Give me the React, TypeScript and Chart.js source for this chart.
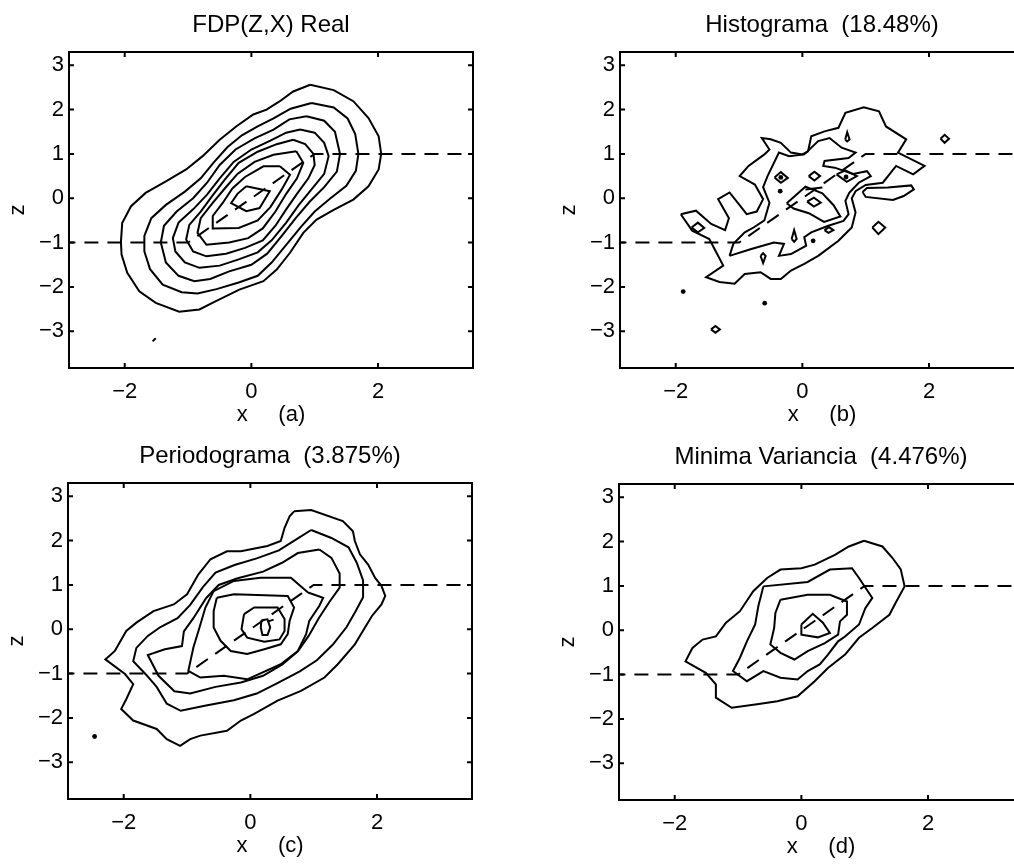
import React, { useEffect, useRef } from 'react';
import { Chart, registerables } from 'chart.js';

Chart.register(...registerables);

type Pt = [number, number];

const FONT = '"Liberation Sans", Arial, Helvetica, sans-serif';

// Axis limits and tick positions shared by all four panels
const xRange: Pt = [-2.88, 3.5];
const zRange: Pt = [-3.83, 3.3];
const xTicks = [-2, 0, 2];
const zTicks = [-3, -2, -1, 0, 1, 2, 3];

// Saturating reference curve z = clip(x, -1, 1)
const refX = [-3, -1, 1, 4];
const refZ = [-1, -1, 1, 1];

// (a) true density, contour levels from outside to inside
const realContours: Pt[][] = [
  [[0.93, 2.56], [1.3, 2.44], [1.61, 2.19], [1.85, 1.81], [2.01, 1.4], [2.05, 1.0], [2.01, 0.65], [1.85, 0.27], [1.61, -0.03], [1.3, -0.26], [1.03, -0.48], [0.82, -0.78], [0.61, -1.23], [0.4, -1.61], [0.19, -1.87], [-0.19, -2.06], [-0.56, -2.32], [-0.82, -2.51], [-1.14, -2.56], [-1.51, -2.36], [-1.77, -2.1], [-1.96, -1.68], [-2.05, -1.27], [-2.06, -0.99], [-2.04, -0.56], [-1.9, -0.18], [-1.67, 0.12], [-1.35, 0.38], [-1.03, 0.65], [-0.77, 0.95], [-0.5, 1.32], [-0.24, 1.62], [0.03, 1.89], [0.24, 2.0], [0.45, 2.19], [0.66, 2.41], [0.93, 2.56]],
  [[0.95, 2.15], [1.3, 2.05], [1.52, 1.8], [1.64, 1.45], [1.69, 1.0], [1.65, 0.62], [1.5, 0.28], [1.25, 0.0], [1.0, -0.3], [0.78, -0.65], [0.55, -1.05], [0.32, -1.45], [0.1, -1.75], [-0.2, -1.9], [-0.55, -2.05], [-0.85, -2.15], [-1.1, -2.12], [-1.4, -1.95], [-1.6, -1.6], [-1.69, -1.2], [-1.69, -0.85], [-1.58, -0.45], [-1.35, -0.15], [-1.05, 0.15], [-0.8, 0.45], [-0.6, 0.8], [-0.38, 1.15], [-0.15, 1.42], [0.1, 1.62], [0.35, 1.8], [0.62, 2.02], [0.95, 2.15]],
  [[0.87, 1.85], [1.15, 1.75], [1.32, 1.5], [1.4, 1.0], [1.35, 0.6], [1.15, 0.25], [0.92, -0.08], [0.7, -0.45], [0.48, -0.85], [0.25, -1.25], [0.0, -1.5], [-0.35, -1.65], [-0.65, -1.82], [-0.9, -1.87], [-1.15, -1.75], [-1.35, -1.45], [-1.43, -1.0], [-1.38, -0.62], [-1.18, -0.3], [-0.92, 0.0], [-0.7, 0.35], [-0.5, 0.75], [-0.25, 1.1], [0.05, 1.35], [0.35, 1.55], [0.6, 1.78], [0.87, 1.85]],
  [[0.77, 1.55], [1.0, 1.48], [1.15, 1.25], [1.22, 0.95], [1.15, 0.55], [0.95, 0.2], [0.75, -0.15], [0.55, -0.55], [0.32, -0.95], [0.1, -1.22], [-0.2, -1.38], [-0.5, -1.52], [-0.82, -1.57], [-1.05, -1.45], [-1.2, -1.2], [-1.24, -0.9], [-1.15, -0.55], [-0.92, -0.25], [-0.7, 0.08], [-0.5, 0.45], [-0.28, 0.82], [0.0, 1.1], [0.3, 1.3], [0.55, 1.48], [0.77, 1.55]],
  [[0.66, 1.32], [0.85, 1.22], [0.98, 1.0], [1.0, 0.75], [0.9, 0.45], [0.72, 0.1], [0.55, -0.25], [0.38, -0.62], [0.18, -0.95], [-0.1, -1.12], [-0.4, -1.25], [-0.71, -1.31], [-0.92, -1.2], [-1.03, -0.93], [-0.98, -0.6], [-0.8, -0.3], [-0.62, 0.05], [-0.42, 0.42], [-0.2, 0.8], [0.1, 1.05], [0.4, 1.22], [0.66, 1.32]],
  [[0.71, 1.06], [0.82, 0.8], [0.72, 0.45], [0.55, 0.1], [0.38, -0.3], [0.18, -0.68], [-0.05, -0.9], [-0.35, -1.0], [-0.71, -1.05], [-0.85, -0.78], [-0.8, -0.45], [-0.62, -0.12], [-0.42, 0.22], [-0.22, 0.55], [0.05, 0.82], [0.35, 0.98], [0.71, 1.06]],
  [[0.45, 0.72], [0.61, 0.53], [0.48, 0.2], [0.3, -0.2], [0.1, -0.5], [-0.2, -0.67], [-0.61, -0.68], [-0.61, -0.4], [-0.45, -0.1], [-0.3, 0.22], [-0.1, 0.48], [0.19, 0.72], [0.45, 0.72]],
  [[-0.08, 0.27], [0.29, 0.16], [0.13, -0.22], [-0.08, -0.29], [-0.32, -0.11], [-0.22, 0.1], [-0.08, 0.27]],
  [[-1.56, -3.23], [-1.51, -3.16]],
];
const realDots: Pt[] = [];

// (b) histogram estimate
const histContours: Pt[][] = [
  [[-1.92, -0.36], [-1.68, -0.28], [-1.44, -0.58], [-1.22, -0.72], [-1.16, -0.45], [-1.33, -0.02], [-1.15, 0.13], [-0.96, -0.21], [-0.88, -0.36], [-0.72, -0.3], [-0.62, -0.02], [-0.75, 0.31], [-0.99, 0.5], [-0.85, 0.73], [-0.6, 0.99], [-0.52, 1.1], [-0.64, 1.36], [-0.5, 1.33], [-0.34, 1.25], [-0.18, 1.03], [0.0, 0.99], [0.09, 1.06], [0.14, 1.4], [0.35, 1.51], [0.57, 1.59], [0.68, 1.93], [0.97, 2.05], [1.21, 1.96], [1.32, 1.62], [1.64, 1.33], [1.51, 1.03], [1.93, 0.73], [1.75, 0.54], [1.48, 0.73], [1.27, 0.35], [1.0, 0.3], [0.84, 0.16], [0.78, 0.0], [0.84, -0.32], [0.78, -0.66], [0.57, -0.96], [0.25, -1.3], [0.03, -1.48], [-0.18, -1.63], [-0.34, -1.82], [-0.5, -1.82], [-0.66, -1.67], [-0.91, -1.71], [-1.07, -1.93], [-1.31, -1.89], [-1.52, -1.78], [-1.25, -1.52], [-1.36, -1.22], [-1.47, -0.92], [-1.74, -0.73], [-1.92, -0.36]],
  [[-1.15, -1.3], [-1.09, -1.03], [-0.91, -0.77], [-0.77, -0.66], [-0.6, -0.5], [-0.52, -0.1], [-0.62, 0.25], [-0.55, 0.5], [-0.37, 1.03], [-0.21, 0.95], [0.03, 0.99], [0.25, 1.29], [0.43, 1.36], [0.62, 1.14], [0.84, 1.03], [0.73, 0.91], [0.35, 0.84], [0.33, 0.73], [0.51, 0.69], [0.8, 0.55], [1.02, 0.61], [1.08, 0.5], [0.89, 0.35], [0.74, 0.12], [0.68, -0.06], [0.73, -0.36], [0.65, -0.51], [0.41, -0.62], [0.14, -0.77], [0.03, -0.88], [0.06, -1.07], [-0.18, -1.26], [-0.37, -1.3], [-0.29, -1.03], [-0.45, -1.0], [-0.82, -1.15], [-1.15, -1.3]],
  [[-0.247, -0.112], [0.048, 0.262], [0.316, 0.112], [0.493, -0.157], [0.6, -0.41], [0.343, -0.532], [0.102, -0.337], [-0.139, -0.232], [-0.247, -0.112]],
  [[0.075, -0.075], [0.182, 0.015], [0.29, -0.097], [0.182, -0.187], [0.075, -0.075]],
  [[0.048, 0.2], [0.316, 0.24]],
  [[-1.75, -0.66], [-1.65, -0.55], [-1.55, -0.67], [-1.65, -0.77], [-1.75, -0.66]],
  [[-0.44, 0.47], [-0.34, 0.59], [-0.23, 0.46], [-0.34, 0.35], [-0.44, 0.47]],
  [[0.1, 0.5], [0.19, 0.6], [0.28, 0.5], [0.19, 0.4], [0.1, 0.5]],
  [[0.54, 0.54], [0.68, 0.63], [0.86, 0.5], [0.7, 0.37], [0.54, 0.54]],
  [[1.105, -0.659], [1.201, -0.532], [1.308, -0.659], [1.201, -0.809], [1.105, -0.659]],
  [[2.182, 1.341], [2.247, 1.431], [2.316, 1.341], [2.247, 1.251], [2.182, 1.341]],
  [[-1.442, -2.959], [-1.373, -2.884], [-1.303, -2.959], [-1.373, -3.034], [-1.442, -2.959]],
  [[0.35, -0.72], [0.42, -0.65], [0.49, -0.72], [0.41, -0.78], [0.35, -0.72]],
  [[-0.17, -0.92], [-0.13, -0.72], [-0.09, -0.92], [-0.13, -0.98], [-0.17, -0.92]],
  [[-0.66, -1.3], [-0.62, -1.46], [-0.58, -1.3], [-0.62, -1.24], [-0.66, -1.3]],
  [[0.676, 1.326], [0.708, 1.491], [0.745, 1.326], [0.708, 1.281], [0.676, 1.326]],
  [[0.95, 0.14], [1.02, 0.23], [1.35, 0.24], [1.72, 0.29], [1.76, 0.2], [1.6, 0.05], [1.43, -0.04], [1.0, 0.03], [0.95, 0.14]],
];
const histDots: Pt[] = [[-1.882, -2.105], [-0.595, -2.367], [0.17, -0.96], [-0.35, 0.16], [0.69, 0.48], [-0.34, 0.47]];

// (c) periodogram estimate
const periodContours: Pt[][] = [
  [[0.69, 2.66], [0.96, 2.69], [1.46, 2.44], [1.62, 2.21], [1.65, 1.99], [1.73, 1.69], [1.86, 1.46], [1.97, 1.16], [2.07, 0.98], [2.13, 0.75], [2.07, 0.56], [1.92, 0.3], [1.81, 0.04], [1.65, -0.34], [1.38, -0.79], [1.17, -1.09], [0.8, -1.39], [0.43, -1.61], [0.06, -1.91], [-0.15, -2.06], [-0.37, -2.29], [-0.79, -2.4], [-0.95, -2.48], [-1.11, -2.63], [-1.32, -2.48], [-1.48, -2.25], [-1.85, -2.06], [-2.04, -1.8], [-1.96, -1.58], [-1.85, -1.24], [-1.98, -1.01], [-2.29, -0.68], [-2.14, -0.49], [-1.96, -0.04], [-1.8, 0.15], [-1.53, 0.41], [-1.21, 0.56], [-1.0, 0.79], [-0.82, 1.24], [-0.63, 1.58], [-0.37, 1.76], [-0.15, 1.76], [0.27, 1.88], [0.48, 1.99], [0.54, 2.29], [0.62, 2.55], [0.69, 2.66]],
  [[0.96, 2.24], [1.28, 2.06], [1.55, 1.85], [1.68, 1.5], [1.78, 1.1], [1.78, 0.72], [1.66, 0.4], [1.52, 0.05], [1.3, -0.35], [1.05, -0.7], [0.78, -0.95], [0.42, -1.22], [0.1, -1.45], [-0.26, -1.6], [-0.7, -1.72], [-1.1, -1.84], [-1.32, -1.68], [-1.48, -1.3], [-1.65, -1.02], [-1.85, -0.72], [-1.8, -0.42], [-1.62, -0.15], [-1.42, 0.05], [-1.15, 0.25], [-0.95, 0.55], [-0.75, 0.95], [-0.55, 1.28], [-0.25, 1.45], [0.1, 1.6], [0.45, 1.78], [0.75, 2.05], [0.96, 2.24]],
  [[1.09, 1.8], [1.28, 1.61], [1.41, 1.26], [1.41, 0.94], [1.25, 0.62], [1.08, 0.25], [0.92, -0.15], [0.75, -0.5], [0.5, -0.8], [0.2, -1.05], [-0.15, -1.2], [-0.55, -1.3], [-0.95, -1.45], [-1.2, -1.4], [-1.45, -1.05], [-1.62, -0.58], [-1.35, -0.45], [-1.08, -0.38], [-1.05, -0.05], [-0.9, 0.25], [-0.7, 0.7], [-0.5, 1.0], [-0.2, 1.15], [0.2, 1.3], [0.5, 1.5], [0.75, 1.72], [1.09, 1.8]],
  [[0.91, 0.83], [1.15, 0.71], [1.09, 0.53], [0.93, 0.19], [0.88, -0.11], [0.75, -0.49], [0.48, -0.79], [-0.05, -1.13], [-0.42, -1.05], [-0.79, -1.09], [-0.98, -0.94], [-0.9, -0.41], [-0.82, -0.04], [-0.71, 0.49], [-0.58, 0.86], [-0.26, 1.09], [0.16, 1.16], [0.64, 1.16], [0.91, 0.83]],
  [[-0.53, 0.71], [-0.26, 0.79], [0.59, 0.75], [0.69, 0.49], [0.62, 0.19], [0.59, -0.11], [0.48, -0.34], [0.22, -0.45], [-0.05, -0.56], [-0.31, -0.49], [-0.47, -0.26], [-0.58, 0.04], [-0.58, 0.41], [-0.53, 0.71]],
  [[-0.1, 0.34], [0.06, 0.49], [0.43, 0.49], [0.54, 0.23], [0.54, -0.04], [0.46, -0.23], [0.22, -0.28], [-0.05, -0.19], [-0.14, 0.0], [-0.1, 0.34]],
  [[0.175, 0.203], [0.271, 0.225], [0.313, 0.038], [0.271, -0.128], [0.191, -0.128], [0.164, 0.038], [0.175, 0.203]],
  [[0.271, 0.173], [0.366, 0.218]],
];
const periodDots: Pt[] = [[-2.46, -2.42]];

// (d) minimum-variance estimate
const minVarContours: Pt[][] = [
  [[0.99, 2.02], [1.28, 1.89], [1.44, 1.63], [1.57, 1.37], [1.63, 0.99], [1.5, 0.65], [1.39, 0.35], [1.12, 0.05], [0.91, -0.17], [0.69, -0.55], [0.42, -0.85], [0.21, -1.15], [-0.06, -1.49], [-0.38, -1.6], [-0.7, -1.67], [-1.1, -1.75], [-1.35, -1.52], [-1.35, -1.22], [-1.51, -0.96], [-1.83, -0.7], [-1.72, -0.4], [-1.56, -0.21], [-1.35, -0.14], [-1.19, 0.17], [-0.97, 0.43], [-0.76, 0.88], [-0.54, 1.18], [-0.33, 1.37], [0.0, 1.4], [0.21, 1.48], [0.53, 1.7], [0.75, 1.89], [0.99, 2.02]],
  [[-0.6, 0.99], [0.1, 1.09], [0.45, 1.37], [0.8, 1.4], [0.91, 1.18], [1.12, 0.73], [1.01, 0.5], [0.91, 0.13], [0.69, -0.14], [0.58, -0.25], [0.42, -0.55], [0.29, -0.77], [0.1, -0.92], [-0.06, -1.11], [-0.33, -1.07], [-0.6, -0.92], [-0.86, -1.15], [-1.08, -0.92], [-0.97, -0.62], [-0.86, -0.25], [-0.73, 0.13], [-0.68, 0.54], [-0.6, 0.99]],
  [[-0.33, 0.69], [0.1, 0.8], [0.45, 0.8], [0.72, 0.65], [0.72, 0.35], [0.61, 0.2], [0.58, -0.1], [0.37, -0.29], [0.1, -0.47], [-0.11, -0.66], [-0.33, -0.51], [-0.49, -0.32], [-0.43, 0.05], [-0.41, 0.39], [-0.33, 0.69]],
  [[0.0, 0.13], [0.18, 0.37], [0.34, 0.17], [0.45, -0.06], [0.26, -0.16], [0.0, -0.1], [0.0, 0.13]],
];
const minVarDots: Pt[] = [];

const panelTitles = ['FDP(Z,X) Real', 'Histograma  (18.48%)', 'Periodograma  (3.875%)', 'Minima Variancia  (4.476%)'];
const panelTags = ['(a)', '(b)', '(c)', '(d)'];

const fmtTick = (v: number | string) => {
  const n = Number(v);
  return n < 0 ? '\u2212' + Math.abs(n) : String(n);
};

// Closed frame with inward tick marks on all four sides
const framePlugin = {
  id: 'frame',
  afterDatasetsDraw(chart: any) {
    const { ctx, chartArea: a, scales } = chart;
    const t = 5;
    ctx.save();
    ctx.strokeStyle = '#000';
    ctx.lineWidth = 2;
    ctx.strokeRect(a.left, a.top, a.right - a.left, a.bottom - a.top);
    ctx.beginPath();
    xTicks.forEach((v) => {
      const px = scales.x.getPixelForValue(v);
      ctx.moveTo(px, a.bottom);
      ctx.lineTo(px, a.bottom - t);
      ctx.moveTo(px, a.top);
      ctx.lineTo(px, a.top + t);
    });
    zTicks.forEach((v) => {
      const py = scales.y.getPixelForValue(v);
      ctx.moveTo(a.left, py);
      ctx.lineTo(a.left + t, py);
      ctx.moveTo(a.right, py);
      ctx.lineTo(a.right - t, py);
    });
    ctx.stroke();
    ctx.restore();
  },
};

type PanelProps = {
  title: string;
  tag: string;
  contours: Pt[][];
  dots: Pt[];
  left: number;
  top: number;
};

const W = 507;
const H = 432;

function Panel({ title, tag, contours, dots, left, top }: PanelProps) {
  const ref = useRef<HTMLCanvasElement>(null);

  useEffect(() => {
    if (!ref.current) return;
    const toXY = (pts: Pt[]) => pts.map(([x, z]) => ({ x, y: z }));
    const datasets: any[] = [
      {
        data: refX.map((x, i) => ({ x, y: refZ[i] })),
        showLine: true,
        borderColor: '#000',
        borderWidth: 2,
        borderDash: [14, 9],
        pointRadius: 0,
        tension: 0,
      },
    ];
    contours.forEach((c) =>
      datasets.push({
        data: toXY(c),
        showLine: true,
        borderColor: '#000',
        borderWidth: 2,
        pointRadius: 0,
        tension: 0,
        fill: false,
      })
    );
    if (dots.length) {
      datasets.push({
        data: toXY(dots),
        showLine: false,
        pointRadius: 2.4,
        backgroundColor: '#000',
        borderWidth: 0,
      });
    }
    const tickFont = { family: FONT, size: 22 };
    const labelFont = { family: FONT, size: 22 };
    const chart = new Chart(ref.current, {
      type: 'scatter',
      data: { datasets },
      options: {
        animation: false,
        responsive: false,
        events: [],
        layout: { padding: { left: 0, top: 0, bottom: 0, right: 34 } },
        plugins: {
          legend: { display: false },
          tooltip: { enabled: false },
          title: {
            display: true,
            text: title,
            color: '#000',
            font: { family: FONT, size: 24, weight: 'normal' },
            padding: { top: 10.6, bottom: 12.6 },
            fullSize: false,
          },
        },
        scales: {
          x: {
            type: 'linear',
            min: xRange[0],
            max: xRange[1],
            grid: { display: false, drawTicks: false },
            border: { display: false },
            afterBuildTicks: (s: any) => {
              s.ticks = xTicks.map((value) => ({ value }));
            },
            afterFit: (s: any) => {
              s.height = 64;
            },
            ticks: { color: '#000', font: tickFont, padding: 11, maxRotation: 0, autoSkip: false, callback: fmtTick },
            title: { display: true, text: 'x     ' + tag, color: '#000', font: labelFont, padding: { top: 0, bottom: 4 } },
          },
          y: {
            type: 'linear',
            min: zRange[0],
            max: zRange[1],
            grid: { display: false, drawTicks: false },
            border: { display: false },
            afterBuildTicks: (s: any) => {
              s.ticks = zTicks.map((value) => ({ value }));
            },
            afterFit: (s: any) => {
              s.width = 69;
            },
            ticks: { color: '#000', font: tickFont, padding: 5, autoSkip: false, callback: fmtTick },
            title: { display: true, text: 'z', color: '#000', font: labelFont, padding: { top: 5, bottom: 0 } },
          },
        },
      } as any,
      plugins: [framePlugin],
    });
    return () => chart.destroy();
  }, [title, tag, contours, dots]);

  return (
    <canvas
      ref={ref}
      width={W}
      height={H}
      style={{ position: 'absolute', left, top, width: W, height: H }}
    />
  );
}

export default function App() {
  return (
    <div
      style={{
        position: 'fixed',
        left: 0,
        top: 0,
        width: 1014,
        height: 864,
        overflow: 'hidden',
        background: '#fff',
      }}
    >
      <Panel title={panelTitles[0]} tag={panelTags[0]} contours={realContours} dots={realDots} left={0} top={0} />
      <Panel title={panelTitles[1]} tag={panelTags[1]} contours={histContours} dots={histDots} left={551} top={0} />
      <Panel title={panelTitles[2]} tag={panelTags[2]} contours={periodContours} dots={periodDots} left={-1} top={431} />
      <Panel title={panelTitles[3]} tag={panelTags[3]} contours={minVarContours} dots={minVarDots} left={550} top={432} />
    </div>
  );
}
